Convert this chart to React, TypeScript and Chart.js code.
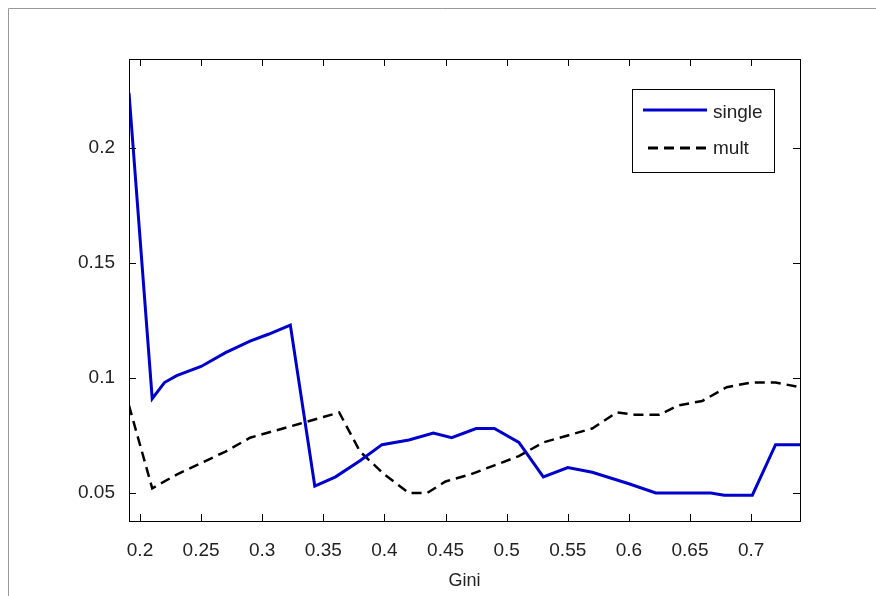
import { Chart, registerables } from "chart.js"
import React, { useEffect, useRef } from "react"

Chart.register(...registerables)

const singleX = [0.191, 0.21, 0.22, 0.23, 0.25, 0.27, 0.29, 0.305, 0.323, 0.343, 0.36, 0.38, 0.398, 0.42, 0.44, 0.455, 0.475, 0.49, 0.51, 0.53, 0.55, 0.57, 0.6, 0.622, 0.667, 0.678, 0.701, 0.72, 0.74]
const singleY = [0.224, 0.091, 0.098, 0.101, 0.105, 0.111, 0.116, 0.119, 0.123, 0.053, 0.057, 0.064, 0.071, 0.073, 0.076, 0.074, 0.078, 0.078, 0.072, 0.057, 0.061, 0.059, 0.054, 0.05, 0.05, 0.049, 0.049, 0.071, 0.071]
const multX = [0.191, 0.21, 0.23, 0.25, 0.27, 0.29, 0.31, 0.33, 0.35, 0.363, 0.38, 0.4, 0.42, 0.435, 0.45, 0.47, 0.49, 0.51, 0.53, 0.55, 0.57, 0.59, 0.605, 0.625, 0.64, 0.66, 0.68, 0.7, 0.72, 0.74]
const multY = [0.088, 0.052, 0.058, 0.063, 0.068, 0.074, 0.077, 0.08, 0.083, 0.085, 0.068, 0.058, 0.05, 0.05, 0.055, 0.058, 0.062, 0.066, 0.072, 0.075, 0.078, 0.085, 0.084, 0.084, 0.088, 0.09, 0.096, 0.098, 0.098, 0.096]
const xTicks = [0.2, 0.25, 0.3, 0.35, 0.4, 0.45, 0.5, 0.55, 0.6, 0.65, 0.7]
const yTicks = [0.05, 0.1, 0.15, 0.2]

const FONT = "'Liberation Sans Narrow', 'Liberation Sans', Arial, sans-serif"

const framePlugin = {
  id: "frame",
  afterDraw(chart: any) {
    const { ctx, chartArea: a, scales } = chart
    ctx.save()
    ctx.strokeStyle = "#000"
    ctx.lineWidth = 1
    ctx.strokeRect(a.left + 0.5, a.top + 0.5, a.right - a.left, a.bottom - a.top)
    ctx.beginPath()
    for (const t of xTicks) {
      const x = Math.round(scales.x.getPixelForValue(t)) + 0.5
      ctx.moveTo(x, a.bottom); ctx.lineTo(x, a.bottom - 7)
      ctx.moveTo(x, a.top); ctx.lineTo(x, a.top + 7)
    }
    for (const t of yTicks) {
      const y = Math.round(scales.y.getPixelForValue(t)) + 0.5
      ctx.moveTo(a.left, y); ctx.lineTo(a.left + 7, y)
      ctx.moveTo(a.right, y); ctx.lineTo(a.right - 7, y)
    }
    ctx.stroke()
    // outer figure border
    ctx.strokeStyle = "#999"
    ctx.beginPath()
    ctx.moveTo(8.5, 596); ctx.lineTo(8.5, 8.5); ctx.lineTo(876, 8.5)
    ctx.stroke()
    // legend
    ctx.fillStyle = "#fff"
    ctx.fillRect(632, 89, 142, 83)
    ctx.strokeStyle = "#000"
    ctx.strokeRect(632.5, 89.5, 142, 83)
    ctx.lineWidth = 3
    ctx.strokeStyle = "#0000cc"
    ctx.beginPath(); ctx.moveTo(643, 110); ctx.lineTo(707, 110); ctx.stroke()
    ctx.strokeStyle = "#000"
    ctx.setLineDash([10, 6])
    ctx.beginPath(); ctx.moveTo(648, 148); ctx.lineTo(707, 148); ctx.stroke()
    ctx.setLineDash([])
    ctx.fillStyle = "#222"
    ctx.font = `19px ${FONT}`
    ctx.textBaseline = "middle"
    ctx.fillText("single", 713, 113)
    ctx.fillText("mult", 713, 149)
    ctx.restore()
  },
}

const App: React.FC = () => {
  const canvasRef = useRef<HTMLCanvasElement>(null)

  useEffect(() => {
    const ctx = canvasRef.current?.getContext("2d")
    if (!ctx) return
    const chart = new Chart(ctx, {
      type: "line",
      data: {
        datasets: [
          {
            label: "single",
            data: singleX.map((x, i) => ({ x, y: singleY[i] })),
            borderColor: "#0000cc",
            borderWidth: 3,
            pointRadius: 0,
            tension: 0,
          },
          {
            label: "mult",
            data: multX.map((x, i) => ({ x, y: multY[i] })),
            borderColor: "#000",
            borderWidth: 2.5,
            borderDash: [10, 6],
            pointRadius: 0,
            tension: 0,
          },
        ],
      },
      options: {
        animation: false,
        responsive: false,
        layout: { padding: { left: 0, top: 59, right: 76, bottom: 0 } },
        plugins: { legend: { display: false }, tooltip: { enabled: false } },
        scales: {
          x: {
            type: "linear",
            min: 0.191,
            max: 0.74,
            afterBuildTicks: (s: any) => { s.ticks = xTicks.map((v) => ({ value: v })) },
            afterFit: (s: any) => { s.height = 75 },
            grid: { display: false },
            border: { display: false },
            ticks: { color: "#222", font: { family: FONT, size: 19 }, padding: 10, callback: (v: any) => String(v) },
            title: { display: true, text: "Gini", color: "#222", font: { family: FONT, size: 18 }, padding: { top: 2 } },
          },
          y: {
            type: "linear",
            min: 0.0378,
            max: 0.2387,
            afterBuildTicks: (s: any) => { s.ticks = yTicks.map((v) => ({ value: v })) },
            afterFit: (s: any) => { s.width = 129 },
            grid: { display: false },
            border: { display: false },
            ticks: { color: "#222", font: { family: FONT, size: 19 }, padding: 6, callback: (v: any) => String(v) },
          },
        },
      },
      plugins: [framePlugin],
    })
    return () => chart.destroy()
  }, [])

  return (
    <div style={{ position: "fixed", left: 0, top: 0, width: 876, height: 596, background: "#fff" }}>
      <canvas ref={canvasRef} width={876} height={596} />
    </div>
  )
}

export default App
